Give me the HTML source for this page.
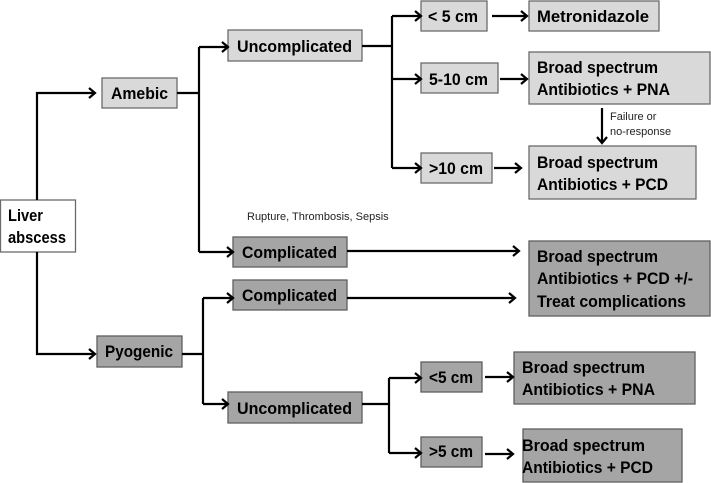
<!DOCTYPE html>
<html><head><meta charset="utf-8"><style>
html,body{margin:0;padding:0;background:#fff;}
svg{display:block;}
text{font-family:"Liberation Sans",sans-serif;}
.b{font-weight:bold;font-size:17px;fill:#000;}
.s{font-size:11px;fill:#222;}
.l{fill:#d9d9d9;stroke:#6b6b6b;stroke-width:1.3;}
.d{fill:#a5a5a5;stroke:#5f5f5f;stroke-width:1.3;}
.w{fill:#fff;stroke:#6b6b6b;stroke-width:1.3;}
.c{fill:none;stroke:#000;stroke-width:2.2;}
</style></head><body>
<svg width="711" height="483" viewBox="0 0 711 483" xmlns="http://www.w3.org/2000/svg">
<!-- boxes -->
<rect class="w" x="0.5" y="200" width="75" height="52"/>
<rect class="l" x="102" y="78" width="75" height="30"/>
<rect class="l" x="228" y="30" width="134" height="31"/>
<rect class="l" x="421" y="1" width="66" height="30"/>
<rect class="l" x="529" y="1" width="130" height="30"/>
<rect class="l" x="421" y="63" width="77" height="30"/>
<rect class="l" x="529" y="52" width="181" height="52"/>
<rect class="l" x="421" y="153" width="71" height="30"/>
<rect class="l" x="529" y="146" width="167" height="53"/>
<rect class="d" x="233" y="237" width="114" height="30"/>
<rect class="d" x="233" y="280" width="114" height="30"/>
<rect class="d" x="529" y="241" width="181" height="75"/>
<rect class="d" x="97" y="336" width="85" height="31"/>
<rect class="d" x="228" y="392" width="134" height="31"/>
<rect class="d" x="421" y="362" width="61" height="30"/>
<rect class="d" x="514" y="352" width="181" height="52"/>
<rect class="d" x="421" y="437" width="61" height="30"/>
<rect class="d" x="523" y="429" width="159" height="53"/>

<!-- connectors -->
<path class="c" d="M37,200 V93 H95 M89,88 L95,93 L89,98"/>
<path class="c" d="M177,93 H199 M199,47 V252 M199,47 H228 M222,42 L228,47 L222,52 M199,252 H233 M227,247 L233,252 L227,257"/>
<path class="c" d="M362,46 H392 M392,16 V168 M392,16 H421 M415,11 L421,16 L415,21 M392,79 H421 M415,74 L421,79 L415,84 M392,168 H421 M415,163 L421,168 L415,173"/>
<path class="c" d="M492,16 H527 M521,11 L527,16 L521,21"/>
<path class="c" d="M500,79 H527 M521,74 L527,79 L521,84"/>
<path class="c" d="M494,168 H521 M515,163 L521,168 L515,173"/>
<path class="c" d="M602,108 V143 M597,137 L602,143 L607,137"/>
<path class="c" d="M347,251 H519 M513,246 L519,251 L513,256"/>
<path class="c" d="M37,252 V354 H95 M89,349 L95,354 L89,359"/>
<path class="c" d="M182,354 H203 M203,298 V404 M203,298 H233 M227,293 L233,298 L227,303 M203,404 H228 M222,399 L228,404 L222,409"/>
<path class="c" d="M347,298 H515 M509,293 L515,298 L509,303"/>
<path class="c" d="M362,404 H389 M389,378 V453 M389,378 H421 M415,373 L421,378 L415,383 M389,453 H421 M415,448 L421,453 L415,458"/>
<path class="c" d="M485,377 H513 M507,372 L513,377 L507,382"/>
<path class="c" d="M485,454 H513 M507,449 L513,454 L507,459"/>

<!-- labels -->
<text class="b" x="8" y="221" textLength="35" lengthAdjust="spacingAndGlyphs">Liver</text>
<text class="b" x="8" y="243" textLength="58" lengthAdjust="spacingAndGlyphs">abscess</text>
<text class="b" x="111" y="99" textLength="57" lengthAdjust="spacingAndGlyphs">Amebic</text>
<text class="b" x="237" y="52" textLength="115" lengthAdjust="spacingAndGlyphs">Uncomplicated</text>
<text class="b" x="428" y="22" textLength="50" lengthAdjust="spacingAndGlyphs">&lt; 5 cm</text>
<text class="b" x="537" y="22" textLength="112" lengthAdjust="spacingAndGlyphs">Metronidazole</text>
<text class="b" x="429" y="85" textLength="59" lengthAdjust="spacingAndGlyphs">5-10 cm</text>
<text class="b" x="537" y="73" textLength="121" lengthAdjust="spacingAndGlyphs">Broad spectrum</text>
<text class="b" x="537" y="95" textLength="133" lengthAdjust="spacingAndGlyphs">Antibiotics + PNA</text>
<text class="s" x="610" y="120">Failure or</text>
<text class="s" x="610" y="135">no-response</text>
<text class="b" x="429" y="174" textLength="54" lengthAdjust="spacingAndGlyphs">&gt;10 cm</text>
<text class="b" x="537" y="168" textLength="121" lengthAdjust="spacingAndGlyphs">Broad spectrum</text>
<text class="b" x="537" y="190" textLength="131" lengthAdjust="spacingAndGlyphs">Antibiotics + PCD</text>
<text class="s" x="247" y="220">Rupture, Thrombosis, Sepsis</text>
<text class="b" x="242" y="258" textLength="95" lengthAdjust="spacingAndGlyphs">Complicated</text>
<text class="b" x="242" y="301" textLength="95" lengthAdjust="spacingAndGlyphs">Complicated</text>
<text class="b" x="537" y="262" textLength="121" lengthAdjust="spacingAndGlyphs">Broad spectrum</text>
<text class="b" x="537" y="284" textLength="156" lengthAdjust="spacingAndGlyphs">Antibiotics + PCD +/-</text>
<text class="b" x="537" y="307" textLength="149" lengthAdjust="spacingAndGlyphs">Treat complications</text>
<text class="b" x="105" y="357" textLength="68" lengthAdjust="spacingAndGlyphs">Pyogenic</text>
<text class="b" x="237" y="414" textLength="115" lengthAdjust="spacingAndGlyphs">Uncomplicated</text>
<text class="b" x="429" y="383" textLength="44" lengthAdjust="spacingAndGlyphs">&lt;5 cm</text>
<text class="b" x="522" y="373" textLength="123" lengthAdjust="spacingAndGlyphs">Broad spectrum</text>
<text class="b" x="522" y="395" textLength="133" lengthAdjust="spacingAndGlyphs">Antibiotics + PNA</text>
<text class="b" x="429" y="457" textLength="44" lengthAdjust="spacingAndGlyphs">&gt;5 cm</text>
<text class="b" x="522" y="451" textLength="123" lengthAdjust="spacingAndGlyphs">Broad spectrum</text>
<text class="b" x="522" y="473" textLength="131" lengthAdjust="spacingAndGlyphs">Antibiotics + PCD</text>
</svg>
</body></html>
